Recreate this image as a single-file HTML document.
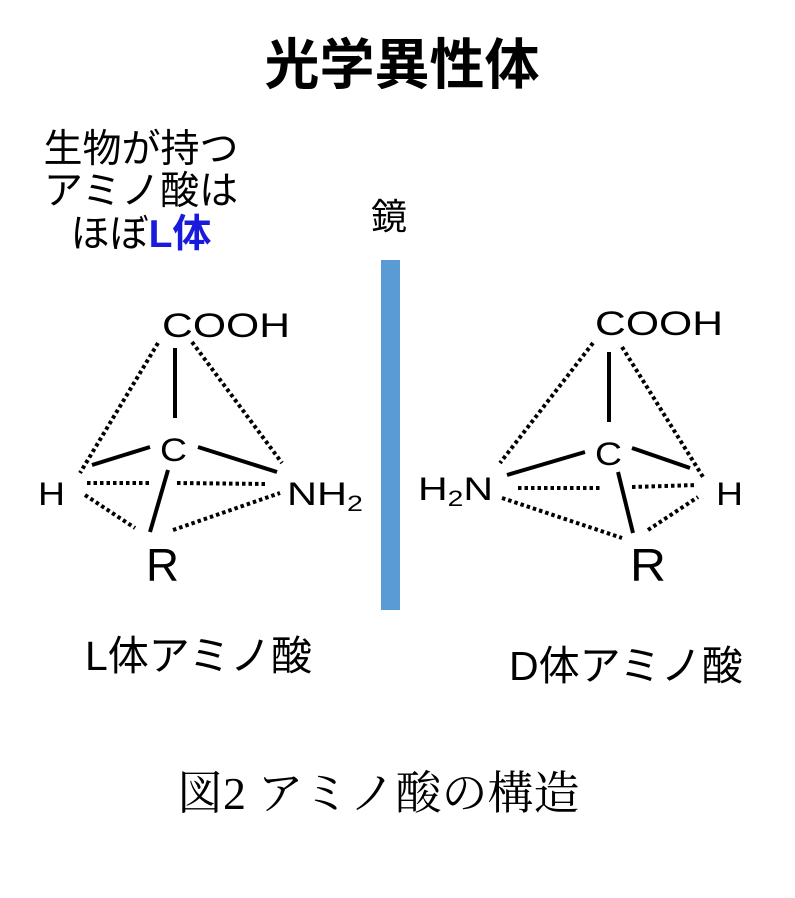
<!DOCTYPE html>
<html><head><meta charset="utf-8"><style>
html,body{margin:0;padding:0;background:#fff;}
svg{display:block;}
.s{font-family:"Liberation Sans","Noto Sans CJK JP",sans-serif;}
.m{font-family:"Liberation Sans",sans-serif;}
</style></head><body>
<svg width="795" height="898" viewBox="0 0 795 898" xmlns="http://www.w3.org/2000/svg">
<text x="402" y="84" class="s" font-size="55" font-weight="bold" text-anchor="middle">光学異性体</text>
<text x="141" y="162" class="s" font-size="39" text-anchor="middle">生物が持つ</text>
<text x="141" y="204" class="s" font-size="39" text-anchor="middle">アミノ酸は</text>
<text x="141" y="247" class="s" font-size="39" text-anchor="middle">ほぼ<tspan fill="#1a1adc" font-weight="bold">L体</tspan></text>
<text x="389" y="229" class="s" font-size="36" text-anchor="middle">鏡</text>
<rect x="381" y="260" width="19" height="350" fill="#5b9bd5"/>

<g stroke="#000" stroke-width="4" fill="none">
<line x1="175" y1="348" x2="175" y2="418"/>
<line x1="92" y1="465" x2="150" y2="447"/>
<line x1="198" y1="447" x2="277" y2="472"/>
<line x1="168" y1="470" x2="150" y2="532"/>
<line x1="609" y1="352" x2="609" y2="422"/>
<line x1="585" y1="452" x2="507" y2="475"/>
<line x1="632" y1="448" x2="690" y2="468"/>
<line x1="618" y1="472" x2="633" y2="533"/>
</g>
<g stroke="#000" stroke-width="4" fill="none" stroke-dasharray="3.5 3">
<line x1="158" y1="343" x2="80" y2="473"/>
<line x1="192" y1="342" x2="282" y2="463"/>
<line x1="87" y1="483" x2="150" y2="483"/>
<line x1="177" y1="483" x2="267" y2="484"/>
<line x1="85" y1="495" x2="135" y2="528"/>
<line x1="173" y1="530" x2="280" y2="493"/>
<line x1="593" y1="343" x2="500" y2="463"/>
<line x1="622" y1="347" x2="703" y2="477"/>
<line x1="518" y1="488" x2="600" y2="488"/>
<line x1="632" y1="487" x2="697" y2="485"/>
<line x1="502" y1="498" x2="622" y2="538"/>
<line x1="648" y1="530" x2="698" y2="497"/>
</g>
<g class="m" fill="#000">
<text x="162" y="337" font-size="34" textLength="128" lengthAdjust="spacingAndGlyphs">COOH</text>
<text x="160" y="461" font-size="32" textLength="27" lengthAdjust="spacingAndGlyphs">C</text>
<text x="38" y="505" font-size="32" textLength="27" lengthAdjust="spacingAndGlyphs">H</text>
<text x="287" y="505" font-size="32" textLength="76" lengthAdjust="spacingAndGlyphs">NH<tspan font-size="22" dy="6">2</tspan></text>
<text x="146" y="581" font-size="46" textLength="33" lengthAdjust="spacingAndGlyphs">R</text>
<text x="595" y="335" font-size="34" textLength="128" lengthAdjust="spacingAndGlyphs">COOH</text>
<text x="595" y="465" font-size="32" textLength="27" lengthAdjust="spacingAndGlyphs">C</text>
<text x="418" y="500" font-size="32" textLength="75" lengthAdjust="spacingAndGlyphs">H<tspan font-size="22" dy="6">2</tspan><tspan dy="-6">N</tspan></text>
<text x="716" y="505" font-size="32" textLength="27" lengthAdjust="spacingAndGlyphs">H</text>
<text x="630" y="581" font-size="46" textLength="36" lengthAdjust="spacingAndGlyphs">R</text>
</g>
<text x="85" y="670" class="s" font-size="41">L体アミノ酸</text>
<text x="509" y="680" class="s" font-size="41">D体アミノ酸</text>
<text x="177" y="809" font-family="'Liberation Serif','Noto Serif CJK SC',serif" font-size="46">図2 アミノ酸の構造</text>
</svg>
</body></html>
